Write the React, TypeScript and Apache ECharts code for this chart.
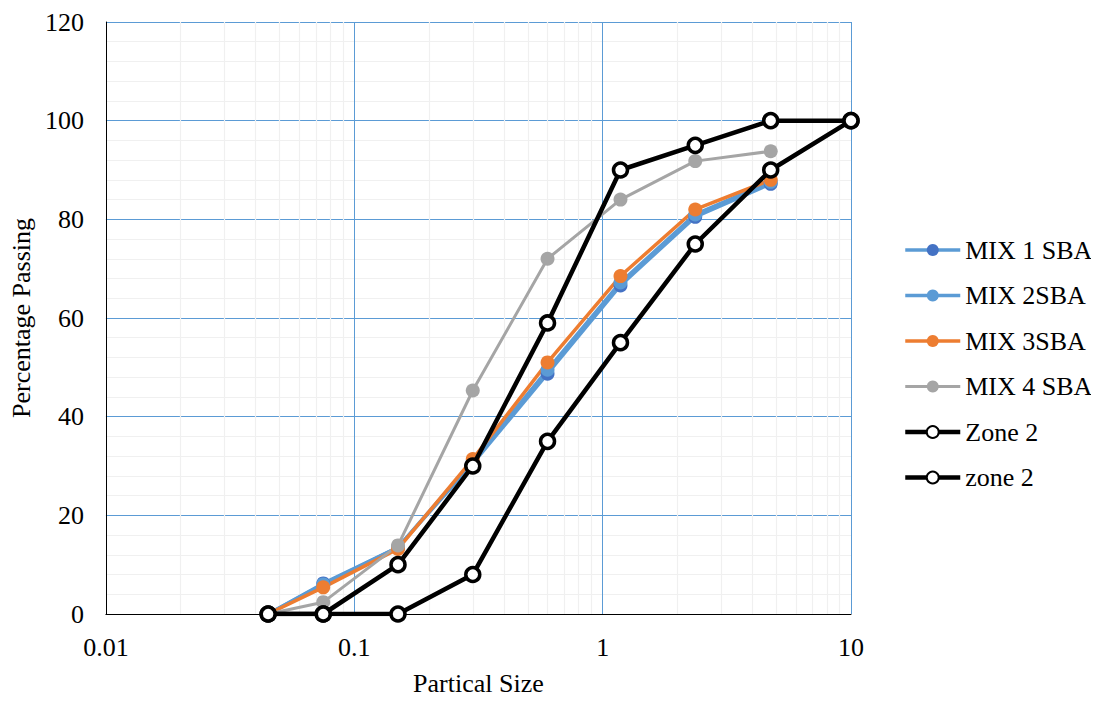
import React, { useEffect, useRef } from "react";
import * as echarts from "echarts";

const sizes = [0.045, 0.075, 0.15, 0.3, 0.6, 1.18, 2.36, 4.75, 10];
const mix1 = [0, 6.2, 13.5, 30.5, 48.7, 66.6, 80.5, 87.2];
const mix2 = [0, 6.0, 13.5, 31.0, 49.5, 67.2, 81.0, 87.6];
const mix3 = [0, 5.4, 13.2, 31.4, 51.0, 68.5, 82.0, 88.0];
const mix4 = [0, 2.4, 13.9, 45.3, 72.0, 84.0, 91.8, 93.8];
const zoneUpper = [0, 0, 10, 30, 59, 90, 95, 100, 100];
const zoneLower = [0, 0, 0, 8, 35, 55, 75, 90, 100];
const xTicks = [0.01, 0.1, 1, 10];
const minorMultipliers = [2, 3, 4, 5, 6, 7, 8, 9];
const legendNames = ["MIX 1 SBA", "MIX 2SBA", "MIX 3SBA", "MIX 4 SBA", "Zone 2", "zone 2"];

const FONT = "Liberation Serif";

function pairs(vals: number[]) {
  return vals.map((v, i) => [sizes[i], v]);
}

export default function App() {
  const ref = useRef<HTMLDivElement>(null);
  useEffect(() => {
    if (!ref.current) return;
    const chart = echarts.init(ref.current, null, { renderer: "svg" });
    const minorX: number[] = [];
    for (let d = 0; d < xTicks.length - 1; d++) {
      for (const m of minorMultipliers) minorX.push(+(xTicks[d] * m).toPrecision(6));
    }
    const mixSeries = (name: string, data: number[], line: string, marker: string, width = 3.5) => ({
      name,
      type: "line",
      data: pairs(data),
      symbol: "circle",
      symbolSize: 14,
      lineStyle: { color: line, width },
      itemStyle: { color: marker },
      z: 3,
    });
    const zoneSeries = (name: string, data: number[]) => ({
      name,
      type: "line",
      data: pairs(data),
      symbol: "circle",
      symbolSize: 14,
      showAllSymbol: true,
      lineStyle: { color: "#000", width: 4.5 },
      itemStyle: { color: "#fff", borderColor: "#000", borderWidth: 3.5 },
      z: 4,
    });
    chart.setOption({
      animation: false,
      textStyle: { fontFamily: FONT },
      grid: { left: 102, right: 248, top: 22, bottom: 83 },
      legend: {
        orient: "vertical",
        left: 898,
        top: 232,
        itemWidth: 55,
        itemHeight: 15,
        itemGap: 19.5,
        data: legendNames,
        lineStyle: { width: "inherit" },
        textStyle: { fontFamily: FONT, fontSize: 26, color: "#000", lineHeight: 26 },
      },
      xAxis: {
        type: "log",
        logBase: 10,
        min: 0.01,
        max: 10,
        name: "Partical Size",
        nameLocation: "middle",
        nameGap: 56,
        nameTextStyle: { fontFamily: FONT, fontSize: 26, color: "#000" },
        axisLine: { show: true, lineStyle: { color: "#000", width: 1 } },
        axisTick: { show: false },
        axisLabel: {
          fontFamily: FONT,
          fontSize: 26,
          color: "#000",
          margin: 20,
          formatter: (v: number) => String(+v.toPrecision(3)),
        },
        splitLine: { show: true, lineStyle: { color: "#5B9BD5", width: 1 } },
      },
      yAxis: {
        type: "value",
        min: 0,
        max: 120,
        interval: 20,
        name: "Percentage Passing",
        nameLocation: "middle",
        nameGap: 66,
        nameRotate: 90,
        nameTextStyle: { fontFamily: FONT, fontSize: 26, color: "#000" },
        axisLine: { show: true, lineStyle: { color: "#000", width: 1 } },
        axisTick: { show: false },
        axisLabel: { fontFamily: FONT, fontSize: 26, color: "#000", margin: 22 },
        splitLine: { show: true, lineStyle: { color: "#5B9BD5", width: 1 } },
        minorTick: { show: false, splitNumber: 5 },
        minorSplitLine: { show: true, lineStyle: { color: "#F0F0F0", width: 1.2 } },
      },
      series: [
        {
          name: "minor-x",
          type: "line",
          data: [],
          silent: true,
          z: 1,
          markLine: {
            silent: true,
            z: 1,
            symbol: ["none", "none"],
            label: { show: false },
            lineStyle: { color: "#F0F0F0", width: 1.2, type: "solid" },
            data: minorX.map((v) => ({ xAxis: v })),
          },
        },
        mixSeries("MIX 1 SBA", mix1, "#5B9BD5", "#4472C4"),
        mixSeries("MIX 2SBA", mix2, "#5B9BD5", "#5B9BD5"),
        mixSeries("MIX 3SBA", mix3, "#ED7D31", "#ED7D31"),
        mixSeries("MIX 4 SBA", mix4, "#A5A5A5", "#A5A5A5", 3),
        zoneSeries("Zone 2", zoneUpper),
        zoneSeries("zone 2", zoneLower),
      ],
    });
    return () => chart.dispose();
  }, []);
  return <div ref={ref} style={{ width: 1099, height: 701, marginLeft: -8, marginTop: -8 }} />;
}
